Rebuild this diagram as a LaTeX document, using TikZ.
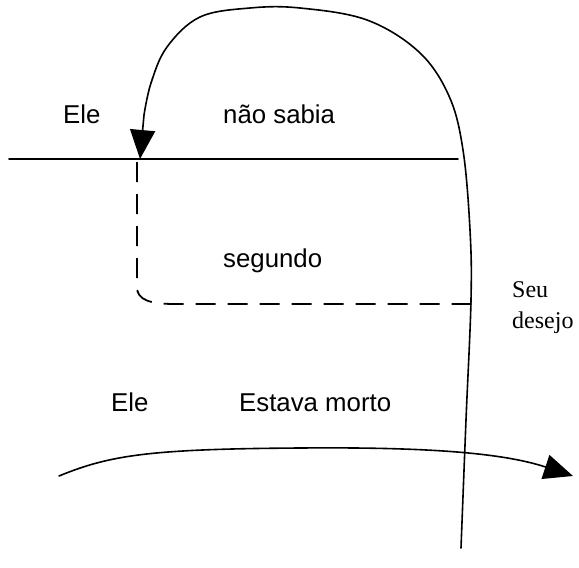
\documentclass[tikz,border=0pt]{standalone}
\usepackage{fontspec}
\setmainfont{Liberation Sans}
\newfontfamily\serifface{Liberation Serif}
\usetikzlibrary{arrows.meta}
\begin{document}
\begin{tikzpicture}[x=1pt,y=-1pt,
  lbl/.style={anchor=base west,inner sep=0pt,font=\fontsize{25.8}{30}\selectfont},
  slbl/.style={anchor=base west,inner sep=0pt,font=\serifface\fontsize{24}{28}\selectfont},
  ln/.style={line width=1.6pt,line cap=round},
  bigtip/.style={-{Triangle[length=29pt,width=25pt]}},
  dsh/.style={line width=1.8pt,dash pattern=on 20pt off 12pt}]
\useasboundingbox (0,0) rectangle (579,568);
% texts
\node[lbl] (ele1) at (63,123) {Ele};
\node[lbl] (nao) at (223,123) {não sabia};
\node[lbl] (seg) at (223,267) {segundo};
\node[slbl] (seu) at (512,297) {Seu};
\node[slbl] (des) at (512,328) {desejo};
\node[lbl] (ele2) at (111,411) {Ele};
\node[lbl] (est) at (239,411) {Estava morto};
% coordinates
\coordinate (hl) at (9,159);
\coordinate (hr) at (458,159);
\coordinate (bstart) at (461,548);
\coordinate (tip) at (140,159);
\coordinate (dtop) at (137,162);
\coordinate (dcorner) at (137,287);
\coordinate (dend) at (473,304);
\coordinate (astart) at (59,476);
\coordinate (aend) at (573,476);
% horizontal line
\draw[ln] (hl) -- (hr);
% big loop arrow
\draw[ln,bigtip] plot[smooth,tension=0.6] coordinates {(bstart) (466,420) (471,300) (470,230) (463,150) (449,96) (419,52) (367,20) (300,8) (250,8) (200,17) (167,47) (151,83) (144,115)} -- (tip);
% dashed path
\draw[dsh] (dtop) -- (dcorner) .. controls (137,300) and (150,304) .. (175,304) -- (dend);
% bottom arrow
\draw[ln,bigtip] (astart) .. controls (110,455) and (150,449) .. (300,448)
  .. controls (420,447) and (500,452) .. (aend);
\end{tikzpicture}
\end{document}
